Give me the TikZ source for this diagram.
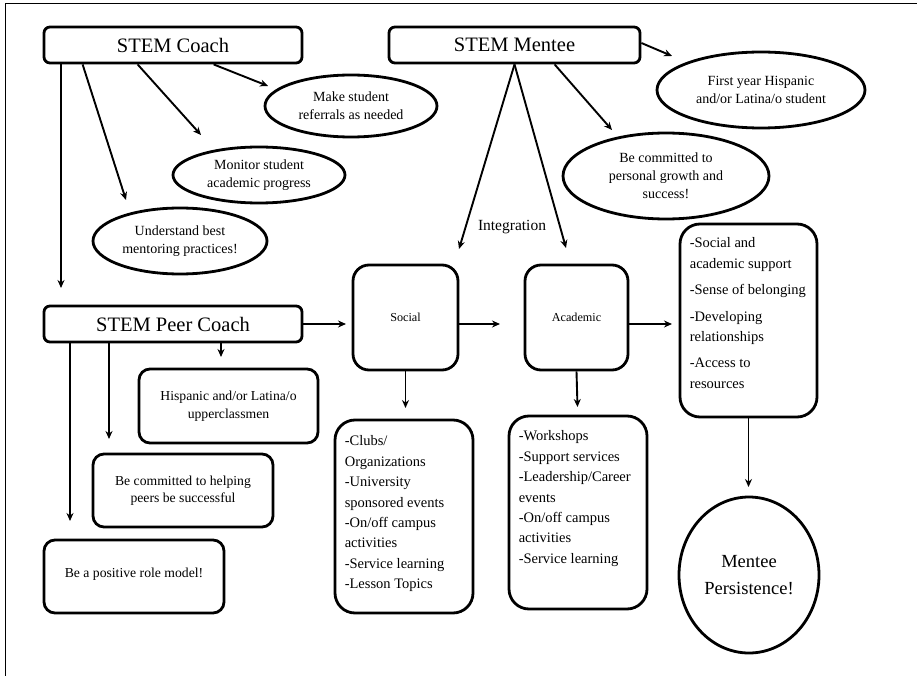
\documentclass[tikz,border=0pt]{standalone}
\usepackage{fontspec}
\setmainfont{Liberation Serif}
\usetikzlibrary{arrows.meta,shapes.geometric,calc}
\begin{document}
\begin{tikzpicture}[x=1pt,y=-1pt,
  hdr/.style={draw, line width=2.8pt, rounded corners=6pt, font=\fontsize{20.5}{24}\selectfont, inner sep=0pt},
  oval/.style={draw, ellipse, line width=2.8pt, align=center, font=\fontsize{14}{18}\selectfont, inner sep=0pt},
  rbox/.style={draw, line width=2.8pt, rounded corners=11pt, align=center, font=\fontsize{13.7}{17.5}\selectfont, inner sep=0pt},
  sq/.style={draw, line width=2.8pt, rounded corners=16pt, font=\fontsize{12.2}{15}\selectfont, inner sep=0pt},
  lbox/.style={draw, line width=2.8pt, rounded corners=20pt, inner sep=0pt},
  ltext/.style={align=left, font=\fontsize{14.5}{20.4}\selectfont, inner sep=0pt, anchor=north west},
  arr/.style={line width=1.9pt, -{Stealth[length=8pt,width=7pt]}},
]
\useasboundingbox (0,0) rectangle (917,676);
\draw[line width=1pt] (5,676) -- (5,4) -- (917,4);

% header boxes
\node[hdr, minimum width=258pt, minimum height=36pt] (coach) at (173,45) {STEM Coach};
\node[hdr, minimum width=251pt, minimum height=36pt] (mentee) at (514.5,45) {STEM Mentee};
\node[hdr, minimum width=258pt, minimum height=36pt] (peer) at (173,324) {STEM Peer Coach};

% ellipses
\node[oval, minimum width=172pt, minimum height=62pt] (make) at (351,106) {Make student\\referrals as needed};
\node[oval, minimum width=172pt, minimum height=56pt] (monitor) at (259,175) {Monitor student\\academic progress};
\node[oval, minimum width=174pt, minimum height=66pt] (understand) at (180,241) {Understand best\\mentoring practices!};
\node[oval, minimum width=208pt, minimum height=76pt] (first) at (761,90) {First year Hispanic\\and/or Latina/o student};
\node[oval, minimum width=206pt, minimum height=86pt] (commit) at (666,176) {Be committed to\\personal growth and\\success!};

% peer coach boxes
\node[rbox, minimum width=179pt, minimum height=74pt] (hisp) at (228.5,406) {Hispanic and/or Latina/o\\upperclassmen};
\node[rbox, minimum width=180pt, minimum height=73pt] (helping) at (183,490.5) {Be committed to helping\\peers be successful};
\node[rbox, minimum width=180pt, minimum height=73pt] (role) at (134,576.5) {\raisebox{7pt}{Be a positive role model!}};

% integration
\node[font=\fontsize{15.5}{18}\selectfont, inner sep=0pt] (integ) at (512,227) {Integration};
\node[sq, minimum width=105pt, minimum height=105pt] (social) at (405.5,317.5) {Social};
\node[sq, minimum width=103pt, minimum height=105pt] (academic) at (576.5,317.5) {Academic};
\node[lbox, minimum width=137pt, minimum height=193pt] (outcome) at (748.5,320.5) {};
\node[ltext] (outtext) at ([shift={(11,15)}]outcome.north west) {-Social and\\academic support\\[6pt]-Sense of belonging\\[6pt]-Developing\\relationships\\[6pt]-Access to\\resources};
\node[draw, ellipse, line width=2.8pt, minimum width=140pt, minimum height=156pt, align=center, inner sep=0pt, font=\fontsize{18.5}{26.5}\selectfont] (persist) at (749,575) {Mentee\\Persistence!};

\node[lbox, minimum width=138pt, minimum height=193pt] (soclist) at (404,516.5) {};
\node[ltext] (soctext) at ([shift={(11,17)}]soclist.north west) {-Clubs/\\Organizations\\-University\\sponsored events\\-On/off campus\\activities\\-Service learning\\-Lesson Topics};
\node[lbox, minimum width=138pt, minimum height=193pt] (acalist) at (578,512.5) {};
\node[ltext] (acatext) at ([shift={(11,16)}]acalist.north west) {-Workshops\\-Support services\\-Leadership/Career\\events\\-On/off campus\\activities\\-Service learning};

% free ends
\coordinate (e1) at (61,288);
\coordinate (e2) at (126,200);
\coordinate (e3) at (201,135);
\coordinate (e4) at (268,86);
\coordinate (e5) at (672,56);
\coordinate (e6) at (459,249);
\coordinate (e7) at (566,248);
\coordinate (e8) at (612,130);
\coordinate (e9) at (346,324);
\coordinate (e10) at (70,521);
\coordinate (e11) at (109,439);
\coordinate (e12) at (221,357);
\coordinate (e13) at (500,324);
\coordinate (e14) at (672,324);
\coordinate (e15) at (748.5,487);
\coordinate (e16) at (405.5,408);
\coordinate (e17) at (577.5,407);

% coach arrows
\draw[arr] (coach.south west -| e1) -- (e1);
\draw[arr] ([xshift=40pt]coach.south west) -- (e2);
\draw[arr] ([xshift=95pt]coach.south west) -- (e3);
\draw[arr] ([xshift=171pt]coach.south west) -- (e4);
% mentee arrows
\draw[arr] ([yshift=2pt]mentee.east) -- (e5);
\draw[arr] (mentee.south) -- (e6);
\draw[arr] (mentee.south) -- (e7);
\draw[arr] ([xshift=167pt]mentee.south west) -- (e8);
% peer arrows
\draw[arr] (peer.east |- e9) -- (e9);
\draw[arr] (peer.south -| e10) -- (e10);
\draw[arr] (peer.south -| e11) -- (e11);
\draw[arr] (peer.south -| e12) -- (e12);
% flow
\draw[arr] (social.east |- e13) -- (e13);
\draw[arr] (academic.east |- e14) -- (e14);
\draw[arr] (outcome.south) -- (e15);
\draw[arr] (social.south) -- (e16);
\draw[arr] (academic.south) -- (e17);
\end{tikzpicture}
\end{document}
